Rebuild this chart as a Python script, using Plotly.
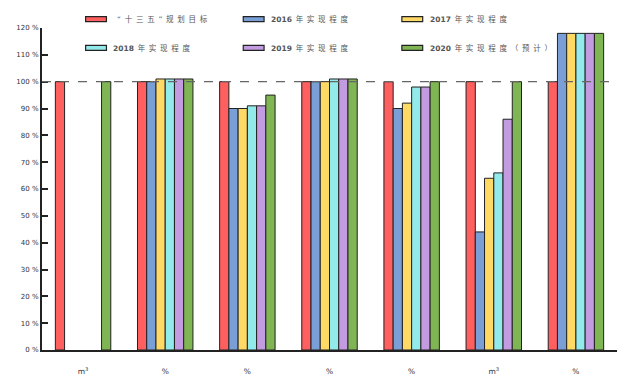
import plotly.graph_objects as go

# ---- data ----
unit_labels = ["m<sup>3</sup>", "%", "%", "%", "%", "m<sup>3</sup>", "%"]
series_names = ["“十三五”规划目标", "2016年实现程度", "2017年实现程度",
                "2018年实现程度", "2019年实现程度", "2020年实现程度（预计）"]
target_13th = [100, 100, 100, 100, 100, 100, 100]
done_2016 = [None, 100, 90, 100, 90, 44, 118]
done_2017 = [None, 101, 90, 100, 92, 64, 118]
done_2018 = [None, 101, 91, 101, 98, 66, 118]
done_2019 = [None, 101, 91, 101, 98, 86, 118]
done_2020 = [100, 101, 95, 101, 100, 100, 118]
y_ticks = [0, 10, 20, 30, 40, 50, 60, 70, 80, 90, 100, 110, 120]
y_tick_text = [f"{v} %" for v in y_ticks]
reference_level = 100

series_values = [target_13th, done_2016, done_2017, done_2018, done_2019, done_2020]
colors = ["#FF5F5F", "#7A9ED6", "#FFD966", "#92EAEA", "#C39BE0", "#7FB653"]

# page body has an 8px margin; compensate so the plot area lands where the reference has it
OFF = 8
W, H = 625 - OFF, 384 - OFF
ML, MR, MT, MB = 37 - OFF, 8, 28 - OFF, 32
PW, PH = W - ML - MR, H - MT - MB

def px_x(px):
    return (px - OFF - ML) / PW

def px_y(py):
    return (H + OFF - MB - py) / PH

FONT = "DejaVu Sans, Noto Sans CJK SC, sans-serif"
x_pos = list(range(len(unit_labels)))

fig = go.Figure()
for name, vals, col in zip(series_names, series_values, colors):
    fig.add_trace(go.Bar(
        x=x_pos, y=vals, name=name,
        marker=dict(color=col, line=dict(color="#222222", width=1)),
        showlegend=False,
    ))

shapes = [dict(type="line", xref="paper", yref="y", x0=0, x1=1,
               y0=reference_level, y1=reference_level,
               line=dict(color="#666666", width=1.3, dash="dash"), layer="above")]
annotations = []

SP = "\u2002"

def spaced(s):
    return SP.join(list(s))

legend_cols = [81, 240, 400]
legend_rows = [19, 48]
for i, (name, col) in enumerate(zip(series_names, colors)):
    cx = legend_cols[i % 3]
    cy = legend_rows[i // 3]
    shapes.append(dict(type="rect", xref="paper", yref="paper",
                       x0=px_x(cx), x1=px_x(cx + 21),
                       y0=px_y(cy + 2.5), y1=px_y(cy - 2.5),
                       fillcolor=col, line=dict(color="#222222", width=1.2)))
    if name[:4].isdigit():
        txt = "<b>" + name[:4] + "</b>" + SP + spaced(name[4:])
        tx = cx + 26
    else:
        txt = spaced(name)
        tx = cx + 30
    annotations.append(dict(xref="paper", yref="paper", x=px_x(tx), y=px_y(cy),
                            xanchor="left", yanchor="middle", showarrow=False,
                            text=txt, font=dict(family=FONT, size=7.5, color="#555555")))

fig.update_layout(
    width=W, height=H, autosize=False,
    margin=dict(l=ML, r=MR, t=MT, b=MB),
    paper_bgcolor="white", plot_bgcolor="white",
    barmode="group", bargap=0.325, bargroupgap=0,
    shapes=shapes, annotations=annotations,
    font=dict(family=FONT, size=7.5, color="#333333"),
    xaxis=dict(range=[-0.5, len(unit_labels) - 0.5], tickvals=x_pos, ticktext=unit_labels,
               showline=True, linewidth=2, linecolor="#222222", showgrid=False,
               zeroline=False, ticks="outside", ticklen=13, tickcolor="rgba(0,0,0,0)",
               tickfont=dict(size=7.5, color="#333333")),
    yaxis=dict(range=[0, 120], tickvals=y_ticks, ticktext=y_tick_text,
               showline=True, linewidth=2, linecolor="#222222", showgrid=False,
               zeroline=False, ticks="inside", ticklen=6, tickwidth=1.5,
               tickcolor="#222222", tickfont=dict(size=7, color="#333333")),
)

fig.write_html("out.html")
